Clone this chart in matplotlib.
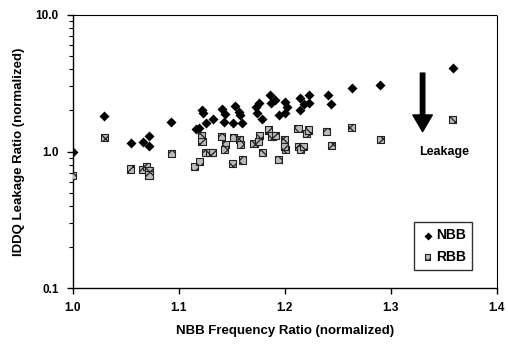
import matplotlib
matplotlib.use("Agg")
import matplotlib.pyplot as plt
from matplotlib.ticker import FixedLocator, LogLocator, NullFormatter

plt.rcParams['font.family'] = ['Liberation Sans', 'DejaVu Sans']
plt.rcParams['font.weight'] = 'bold'
plt.rcParams['hatch.linewidth'] = 0.9

nbb_x = [1.0, 1.0297, 1.0547, 1.066, 1.072, 1.072, 1.093, 1.116, 1.119, 1.122, 1.1225,
         1.126, 1.132, 1.141, 1.144, 1.143, 1.153, 1.157, 1.158, 1.151, 1.16, 1.1725,
         1.176, 1.174, 1.179, 1.186, 1.187, 1.191, 1.1944, 1.2, 1.202, 1.2, 1.214,
         1.214, 1.218, 1.2225, 1.223, 1.2406, 1.244, 1.263, 1.29, 1.359]
nbb_y = [1.0, 1.82, 1.15, 1.18, 1.29, 1.10, 1.66, 1.46, 1.50, 2.02, 1.91,
         1.63, 1.73, 2.04, 1.88, 1.66, 2.16, 1.96, 1.86, 1.63, 1.61, 2.11,
         2.26, 1.91, 1.72, 2.60, 2.26, 2.39, 1.86, 2.32, 2.11, 1.91, 2.48,
         2.02, 2.23, 2.26, 2.60, 2.60, 2.22, 2.94, 3.07, 4.08]

rbb_x = [1.0, 1.0297, 1.0547, 1.0656, 1.07, 1.072, 1.072, 1.093, 1.115, 1.12, 1.1216,
         1.122, 1.125, 1.129, 1.132, 1.14, 1.144, 1.143, 1.151, 1.152, 1.157, 1.158,
         1.16, 1.171, 1.176, 1.175, 1.179, 1.185, 1.188, 1.191, 1.194, 1.2, 1.2006,
         1.2, 1.2125, 1.213, 1.2147, 1.218, 1.2206, 1.222, 1.2397, 1.244, 1.263,
         1.29, 1.358]
rbb_y = [0.664, 1.27, 0.746, 0.74, 0.777, 0.726, 0.675, 0.972, 0.777, 0.845, 1.30,
         1.18, 0.983, 0.983, 0.983, 1.29, 1.12, 1.03, 0.822, 1.27, 1.22, 1.12,
         0.869, 1.15, 1.32, 1.18, 0.983, 1.44, 1.30, 1.32, 0.879, 1.22, 1.04,
         1.09, 1.48, 1.09, 1.03, 1.09, 1.36, 1.44, 1.40, 1.11, 1.50,
         1.23, 1.71]

x_ticks = [1.0, 1.1, 1.2, 1.3, 1.4]
x_tick_labels = ["1.0", "1.1", "1.2", "1.3", "1.4"]
y_ticks = [0.1, 1.0, 10.0]
y_tick_labels = ["0.1", "1.0", "10.0"]

fig = plt.figure(figsize=(5.08, 3.45), dpi=100)
ax = fig.add_axes([0.143, 0.164, 0.835, 0.793])

ax.scatter(nbb_x, nbb_y, marker='D', s=26, color='black', linewidths=0, label='NBB', zorder=3)
ax.scatter(rbb_x, rbb_y, marker='s', s=26, facecolor='#bbbbbb', edgecolor='#222222',
           hatch='xxx', linewidths=0.8, label='RBB', zorder=3)

ax.set_yscale('log')
ax.set_xlim(1.0, 1.4)
ax.set_ylim(0.1, 10.0)
ax.xaxis.set_major_locator(FixedLocator(x_ticks))
ax.set_xticklabels(x_tick_labels)
ax.yaxis.set_major_locator(FixedLocator(y_ticks))
ax.set_yticklabels(y_tick_labels)
ax.yaxis.set_minor_locator(LogLocator(base=10, subs=range(2, 10)))
ax.yaxis.set_minor_formatter(NullFormatter())
ax.tick_params(axis='both', which='major', direction='out', length=4, width=1,
               labelsize=8.5, pad=6)
ax.tick_params(axis='y', which='minor', direction='out', length=3, width=0.8)
for lab in ax.get_xticklabels() + ax.get_yticklabels():
    lab.set_fontweight('bold')

ax.set_xlabel('NBB Frequency Ratio (normalized)', fontsize=9.5, fontweight='bold', labelpad=8)
ax.set_ylabel('IDDQ Leakage Ratio (normalized)', fontsize=9.5, fontweight='bold', labelpad=8)

for s in ['top', 'right']:
    ax.spines[s].set_linestyle((0, (1, 1)))
    ax.spines[s].set_linewidth(0.8)
for s in ['bottom', 'left']:
    ax.spines[s].set_linewidth(1.0)

ax.annotate('', xy=(1.330, 1.40), xytext=(1.330, 3.75),
            arrowprops=dict(width=3.2, headwidth=14, headlength=12,
                            facecolor='black', edgecolor='black', shrink=0))
ax.text(1.35, 1.0, 'Leakage', ha='center', va='center', fontsize=9, fontweight='bold')

leg = ax.legend(loc='lower right', bbox_to_anchor=(0.942, 0.067), frameon=True,
                fancybox=False, edgecolor='black', fontsize=10, handletextpad=0.1,
                borderpad=0.45, labelspacing=0.55, handlelength=1.0, borderaxespad=0,
                markerscale=0.8)
leg.get_frame().set_linewidth(1.0)

fig.savefig('out.png', dpi=100)
